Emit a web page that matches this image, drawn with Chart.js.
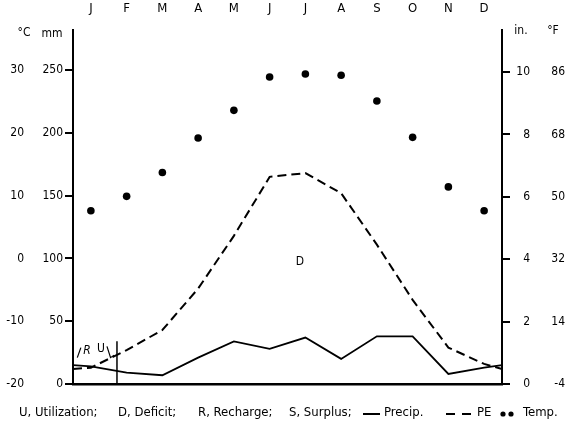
<!DOCTYPE html>
<html><head><meta charset="utf-8">
<script src="https://cdn.jsdelivr.net/npm/chart.js@4.4.1/dist/chart.umd.min.js"></script>
<style>html,body{margin:0;padding:0;background:#fff}#wrap{width:565px;height:427px;position:relative}</style>
</head><body><div id="wrap"><canvas id="c"></canvas></div>
<script>
// ---- data ----
const months = ['J','F','M','A','M','J','J','A','S','O','N','D'];
const tempC = [7.6, 9.9, 13.7, 19.2, 23.6, 28.9, 29.4, 29.2, 25.1, 19.3, 11.4, 7.6];
const precipMm = [14, 9, 7, 21, 34, 28, 37, 20, 38, 38, 8, 13];
const peMm = [13, 27, 43, 76, 118, 165, 168, 152, 111, 67, 29, 16];
const yearEdgePrecipMm = 15;   // value at the Dec/Jan boundary (chart edges)
const yearEdgePeMm = 12;
const mmTicks = [0, 50, 100, 150, 200, 250];
const cTicks = [-20, -10, 0, 10, 20, 30];
const inTicks = [0, 2, 4, 6, 8, 10];
const fTicks = [-4, 14, 32, 50, 68, 86];
const footerTexts = ['U, Utilization;', 'D, Deficit;', 'R, Recharge;', 'S, Surplus;', 'Precip.', 'PE', 'Temp.'];
const unitLabels = ['°C', 'mm', 'in.', '°F'];
const regionLabels = ['R', 'U', 'D'];

const FONT = "'Liberation Sans Narrow','DejaVu Sans Condensed','Arial Narrow',sans-serif";
const INK = '#000';

function withEdges(vals, edge) {
  const pts = [{x: 0.5, y: edge}];
  vals.forEach((v, i) => pts.push({x: i + 1, y: v}));
  pts.push({x: 12.5, y: edge});
  return pts;
}
const fixTicks = arr => s => { s.ticks = arr.map(v => ({value: v})); };

const annot = {
  id: 'annot',
  afterDraw(chart) {
    const {ctx, scales} = chart;
    const X = scales.x, Y = scales.y;
    ctx.save();
    ctx.fillStyle = INK; ctx.strokeStyle = INK;
    ctx.textBaseline = 'middle'; ctx.textAlign = 'center';
    ctx.font = '12px ' + FONT;
    // unit headings
    ctx.fillText(unitLabels[0], 24, 33);
    ctx.fillText(unitLabels[1], 52, 34);
    ctx.fillText(unitLabels[2], 521, 31);
    ctx.fillText(unitLabels[3], 553, 31);
    // end of soil-moisture utilisation marker
    const vx = X.getPixelForValue(1.73);
    ctx.lineWidth = 1.5;
    ctx.beginPath(); ctx.moveTo(vx, Y.getPixelForValue(0)); ctx.lineTo(vx, Y.getPixelForValue(34)); ctx.stroke();
    // small arrow next to U
    ctx.lineWidth = 1.2;
    ctx.beginPath();
    ctx.moveTo(X.getPixelForValue(1.45), Y.getPixelForValue(30));
    ctx.lineTo(X.getPixelForValue(1.55), Y.getPixelForValue(21));
    ctx.lineTo(X.getPixelForValue(1.65), Y.getPixelForValue(23));
    ctx.stroke();
    // small slash before R
    ctx.beginPath();
    ctx.moveTo(X.getPixelForValue(0.62), Y.getPixelForValue(21));
    ctx.lineTo(X.getPixelForValue(0.72), Y.getPixelForValue(29));
    ctx.stroke();
    ctx.font = 'italic 12px ' + FONT;
    ctx.fillText(regionLabels[0], X.getPixelForValue(0.89), Y.getPixelForValue(26));
    ctx.font = '12px ' + FONT;
    ctx.fillText(regionLabels[1], X.getPixelForValue(1.28), Y.getPixelForValue(28));
    ctx.fillText(regionLabels[2], X.getPixelForValue(6.85), Y.getPixelForValue(97));
    // footer
    const fy = 413;
    ctx.textAlign = 'left';
    ctx.font = '13px ' + FONT;
    const fx = [19, 118, 198, 289, 384, 477, 523];
    footerTexts.forEach((t, i) => ctx.fillText(t, fx[i], fy));
    ctx.lineWidth = 2;
    ctx.beginPath(); ctx.moveTo(363, fy + 1); ctx.lineTo(380, fy + 1); ctx.stroke();
    ctx.beginPath(); ctx.moveTo(446, fy + 1); ctx.lineTo(455, fy + 1); ctx.moveTo(462, fy + 1); ctx.lineTo(471, fy + 1); ctx.stroke();
    [503, 511].forEach(x => { ctx.beginPath(); ctx.arc(x, fy + 1, 2.6, 0, Math.PI * 2); ctx.fill(); });
    ctx.restore();
  }
};

const tickFont = {family: FONT, size: 12};

new Chart(document.getElementById('c'), {
  data: {
    datasets: [
      {type: 'line', label: 'Precip.', data: withEdges(precipMm, yearEdgePrecipMm), yAxisID: 'y', xAxisID: 'x',
       borderColor: INK, borderWidth: 1.8, pointRadius: 0, tension: 0},
      {type: 'line', label: 'PE', data: withEdges(peMm, yearEdgePeMm), yAxisID: 'y', xAxisID: 'x',
       borderColor: INK, borderWidth: 2, borderDash: [9, 5], pointRadius: 0, tension: 0},
      {type: 'line', label: 'Temp.', data: tempC.map((v, i) => ({x: i + 1, y: v})), yAxisID: 'yC', xAxisID: 'x',
       showLine: false, pointRadius: 3.8, pointBackgroundColor: INK, pointBorderColor: INK, pointBorderWidth: 0}
    ]
  },
  options: {
    responsive: true, maintainAspectRatio: false, animation: false,
    layout: {padding: {top: 0, bottom: 43, left: 0, right: 0}},
    plugins: {legend: {display: false}, tooltip: {enabled: false}},
    scales: {
      x: {type: 'linear', position: 'top', min: 0.5, max: 12.5,
          afterBuildTicks: s => { s.ticks = months.map((m, i) => ({value: i + 1})); },
          afterFit: s => { s.height = 30; },
          grid: {display: false}, border: {display: false},
          ticks: {font: {family: FONT, size: 13}, color: INK, padding: 6, maxRotation: 0, autoSkip: false,
                  callback: v => months[v - 1]}},
      x2: {type: 'linear', position: 'bottom', min: 0.5, max: 12.5,
           grid: {display: false}, ticks: {display: false},
           border: {display: true, color: INK, width: 2.5},
           afterFit: s => { s.height = 0; }},
      y: {type: 'linear', position: 'left', min: 0, max: 282,
          afterBuildTicks: fixTicks(mmTicks), afterFit: s => { s.width = 36; },
          grid: {drawOnChartArea: false, drawTicks: true, tickLength: 8, color: INK, lineWidth: 2},
          border: {display: true, color: INK, width: 2},
          ticks: {font: tickFont, color: INK, padding: 2}},
      yC: {type: 'linear', position: 'left', min: -20, max: -20 + 282 / 5,
           afterBuildTicks: fixTicks(cTicks), afterFit: s => { s.width = 37; },
           grid: {display: false}, border: {display: false},
           ticks: {font: tickFont, color: INK, padding: 5}},
      yIn: {type: 'linear', position: 'right', min: 0, max: 11.35,
            afterBuildTicks: fixTicks(inTicks), afterFit: s => { s.width = 28; },
            grid: {drawOnChartArea: false, drawTicks: true, tickLength: 8, color: INK, lineWidth: 2},
            border: {display: true, color: INK, width: 2},
            ticks: {font: tickFont, color: INK, padding: 3, crossAlign: 'far'}},
      yF: {type: 'linear', position: 'right', min: -4, max: -4 + 11.35 * 9,
           afterBuildTicks: fixTicks(fTicks), afterFit: s => { s.width = 35; },
           grid: {display: false}, border: {display: false},
           ticks: {font: tickFont, color: INK, padding: 16, crossAlign: 'far'}}
    }
  },
  plugins: [annot]
});
</script>
</body></html>
